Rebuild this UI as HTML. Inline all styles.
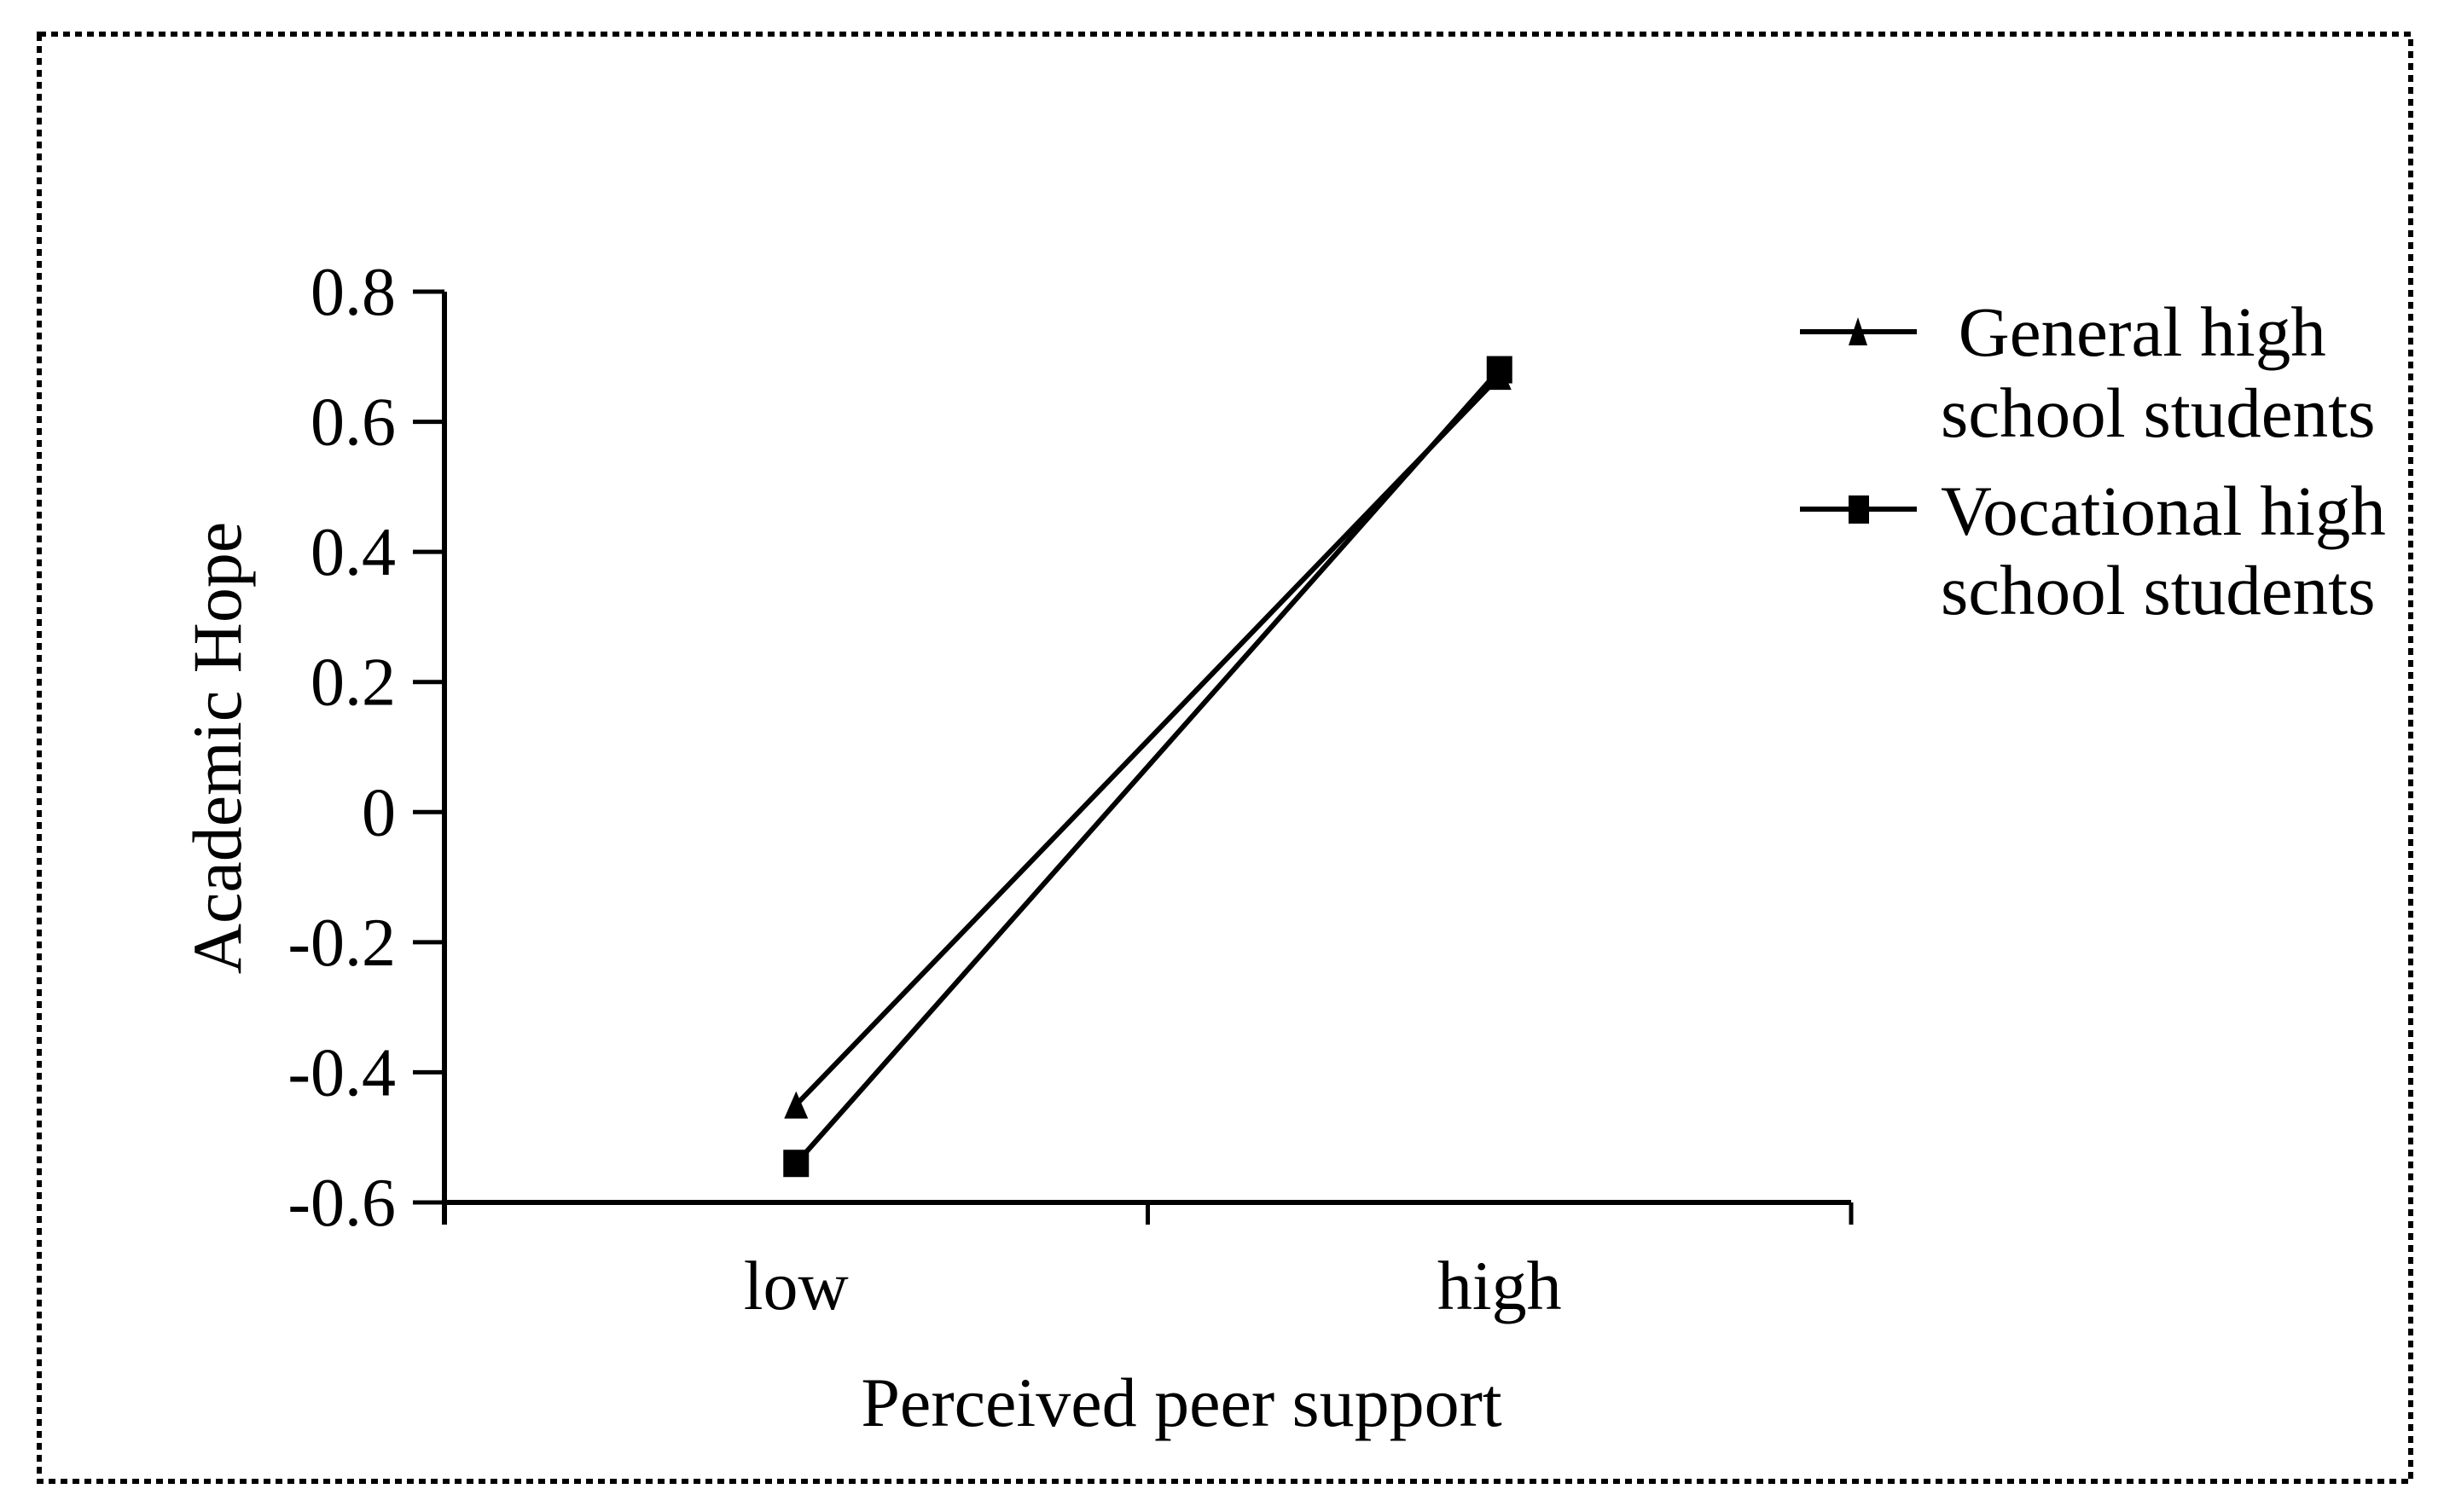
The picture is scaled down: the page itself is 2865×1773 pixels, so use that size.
<!DOCTYPE html>
<html><head><meta charset="utf-8"><style>
html,body{margin:0;padding:0;background:#fff;}
svg{display:block;font-family:"Liberation Serif",serif;}
</style></head><body>
<svg id="chart" width="2865" height="1773" viewBox="0 0 2865 1773" xmlns="http://www.w3.org/2000/svg">
<rect x="46" y="40" width="2780" height="1697" fill="none" stroke="#000" stroke-width="6" stroke-dasharray="8,6"/>
<g id="axes"></g>
<g id="series"></g>
<g>
  <line x1="2110" y1="389" x2="2247" y2="389" stroke="#000" stroke-width="6"/>
  <polygon points="2178,372 2167,405 2189,405" fill="#000"/>
  <text x="2275" y="417" font-size="83" xml:space="preserve"> General high</text>
  <text x="2275" y="512" font-size="83">school students</text>
  <line x1="2110" y1="597" x2="2247" y2="597" stroke="#000" stroke-width="6"/>
  <rect x="2167" y="581" width="24" height="33" fill="#000"/>
  <text x="2275" y="627" font-size="83">Vocational high</text>
  <text x="2275" y="720" font-size="83">school students</text>
</g>
<text x="1385" y="1672" font-size="82" text-anchor="middle">Perceived peer support</text>
<text transform="translate(282,877) rotate(-90)" font-size="82" text-anchor="middle">Academic Hope</text>
</svg>
<script>
const categories = ["low", "high"];
const generalValues = [-0.45, 0.67];
const vocationalValues = [-0.54, 0.68];
const yTicks = [0.8, 0.6, 0.4, 0.2, 0, -0.2, -0.4, -0.6];
const yTickLabels = ["0.8", "0.6", "0.4", "0.2", "0", "-0.2", "-0.4", "-0.6"];

const NS = "http://www.w3.org/2000/svg";
const X0 = 521, X1 = 2170, Y0 = 1410, Y1 = 342, YMIN = -0.6, YMAX = 0.8;
function yScale(v){ return Y0 - (v - YMIN) / (YMAX - YMIN) * (Y0 - Y1); }
function xScale(i){ const band = (X1 - X0) / categories.length; return X0 + band * (i + 0.5); }
function mk(tag, attrs, parent){ const e = document.createElementNS(NS, tag); for (const k in attrs) e.setAttribute(k, attrs[k]); parent.appendChild(e); return e; }

const axes = document.getElementById("axes");
const yAxis = mk("line", {x1:X0, y1:Y1, x2:X0, y2:1436, stroke:"#000", "stroke-width":6}, axes);


const xAxis = mk("line", {x1:X0, y1:Y0, x2:X1, y2:Y0, stroke:"#000", "stroke-width":6}, axes);


yTicks.forEach((v, i) => {
  const y = yScale(v);
  const t = mk("line", {x1:484, y1:y, x2:X0, y2:y, stroke:"#000", "stroke-width":5}, axes);
  
  
  const l = mk("text", {x:464, y:y + 27, "font-size":80, "text-anchor":"end"}, axes);
  l.textContent = yTickLabels[i];
  
  
});
for (let i = 1; i <= categories.length; i++) {
  const x = X0 + (X1 - X0) / categories.length * i;
  const t = mk("line", {x1:x, y1:Y0, x2:x, y2:1436, stroke:"#000", "stroke-width":5}, axes);
  
  
}
categories.forEach((c, i) => {
  const l = mk("text", {x:xScale(i), y:1535, "font-size":82, "text-anchor":"middle"}, axes);
  l.textContent = c;
  
  
});

const series = document.getElementById("series");
function drawLine(vals, name){
  const pts = vals.map((v, i) => xScale(i) + "," + yScale(v)).join(" ");
  const p = mk("polyline", {points:pts, fill:"none", stroke:"#000", "stroke-width":6}, series);
  
  
}
drawLine(vocationalValues, 'vocational-line');
drawLine(generalValues, 'general-line');
generalValues.forEach((v, i) => {
  const x = xScale(i), y = yScale(v);
  const m = mk("polygon", {points:`${x},${y-16} ${x-14},${y+16} ${x+14},${y+16}`, fill:"#000"}, series);
  
  
});
vocationalValues.forEach((v, i) => {
  const x = xScale(i), y = yScale(v);
  const m = mk("rect", {x:x-15, y:y-16, width:30, height:32, fill:"#000"}, series);
  
  
});
</script>
</body></html>
